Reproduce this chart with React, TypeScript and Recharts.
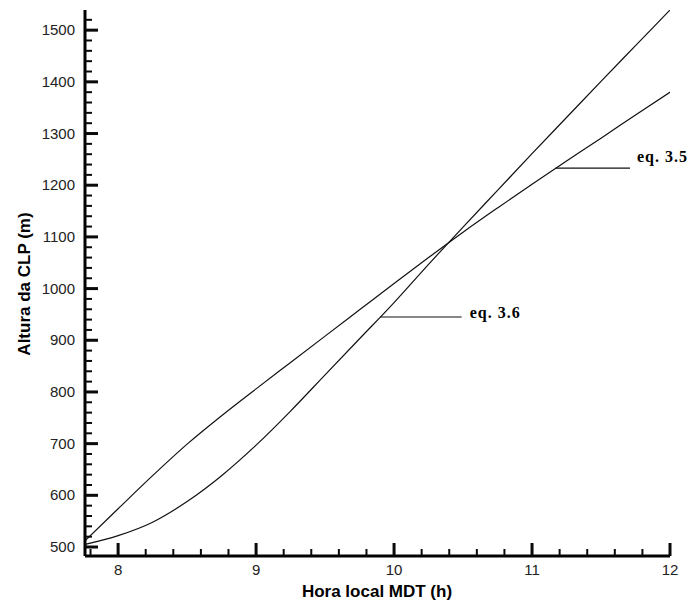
import React from 'react';
import { LineChart, Line, XAxis, YAxis, ReferenceLine } from 'recharts';

// hora local (h)
const horas = [7.76, 8, 8.25, 8.5, 8.75, 9, 9.25, 9.5, 9.75, 10, 10.25, 10.5, 10.75, 11, 11.25, 11.5, 11.75, 12];
// altura da CLP (m), eq. 3.5
const eq35 = [512, 574, 638, 699, 754, 806, 857, 908, 959, 1010, 1060, 1109, 1156, 1202, 1247, 1291, 1336, 1380];
// altura da CLP (m), eq. 3.6
const eq36 = [505, 522, 548, 588, 638, 697, 763, 833, 903, 973, 1047, 1119, 1190, 1261, 1331, 1401, 1470, 1539];

const xMajor = [8, 9, 10, 11, 12];
const xTicks = [7.8, 8, 8.2, 8.4, 8.6, 8.8, 9, 9.2, 9.4, 9.6, 9.8, 10, 10.2, 10.4, 10.6, 10.8, 11, 11.2, 11.4, 11.6, 11.8, 12];
const yMajor = [500, 600, 700, 800, 900, 1000, 1100, 1200, 1300, 1400, 1500];
const yTicks = Array.from({ length: 52 }, (_, i) => 500 + i * 20);

const data = horas.map((h, i) => ({ h, eq35: eq35[i], eq36: eq36[i] }));

const SANS = '"Liberation Sans", Arial, sans-serif';
const SERIF = '"Liberation Serif", "Times New Roman", serif';
const TICK_COLOR = '#0a0a0a';

// ticks point inwards, minor every 0.2 h / 20 m
const XTick = (props: any) => {
  const x = Number(props.x);
  const y = Number(props.y);
  const v = props.payload.value;
  const major = xMajor.some(m => Math.abs(m - v) < 1e-6);
  const len = major ? 13 : 7;
  const w = major ? 3 : 2;
  return (
    <g>
      <rect x={x - w / 2} y={y - len} width={w} height={len} style={{ fill: TICK_COLOR, stroke: 'none' }} />
      {major && (
        <text x={x} y={y + 19} textAnchor="middle" fontSize={15} fontFamily={SANS} style={{ fill: '#222', stroke: 'none' }}>
          {Math.round(v)}
        </text>
      )}
    </g>
  );
};

const YTick = (props: any) => {
  const x = Number(props.x);
  const y = Number(props.y);
  const v = props.payload.value;
  const major = yMajor.includes(v);
  const len = major ? 13 : 7;
  const w = major ? 3 : 2;
  return (
    <g>
      <rect x={x} y={y - w / 2} width={len} height={w} style={{ fill: TICK_COLOR, stroke: 'none' }} />
      {major && (
        <text x={x - 10} y={y + 5} textAnchor="end" fontSize={15} fontFamily={SANS} style={{ fill: '#222', stroke: 'none' }}>
          {v}
        </text>
      )}
    </g>
  );
};

const YTitle = () => (
  <text
    x={30}
    y={284}
    transform="rotate(-90, 30, 284)"
    textAnchor="middle"
    fontSize={17}
    fontWeight="bold"
    fontFamily={SANS}
    fill="#000"
  >
    Altura da CLP (m)
  </text>
);

const XTitle = () => (
  <text x={377} y={597} textAnchor="middle" fontSize={17} fontWeight="bold" fontFamily={SANS} fill="#000">
    Hora local MDT (h)
  </text>
);

const EqLabel = (props: any) => {
  const { viewBox, text, dx = 0, dy = 0 } = props;
  if (!viewBox) return null;
  return (
    <text
      x={viewBox.x + viewBox.width + dx}
      y={viewBox.y + dy}
      fontSize={16}
      fontWeight="bold"
      fontFamily={SERIF}
      letterSpacing={1}
      fill="#000"
    >
      {text}
    </text>
  );
};

export default function App() {
  return (
    <div style={{ position: 'absolute', left: 0, top: 0, background: '#fff' }}>
      <LineChart width={691} height={608} data={data} margin={{ top: 10, right: 21, bottom: 0, left: 0 }}>
        <XAxis
          dataKey="h"
          type="number"
          domain={[7.76, 12]}
          ticks={xTicks}
          interval={0}
          allowDataOverflow
          height={52}
          tickSize={0}
          tickMargin={0}
          tick={<XTick />}
          stroke="#000"
          strokeWidth={3}
          label={<XTitle />}
        />
        <YAxis
          type="number"
          domain={[482.6, 1539]}
          ticks={yTicks}
          interval={0}
          allowDataOverflow
          width={85}
          tickSize={0}
          tickMargin={0}
          tick={<YTick />}
          stroke="#000"
          strokeWidth={3}
          label={<YTitle />}
        />
        <Line type="monotone" dataKey="eq35" stroke="#111" strokeWidth={1.2} dot={false} isAnimationActive={false} />
        <Line type="monotone" dataKey="eq36" stroke="#111" strokeWidth={1.2} dot={false} isAnimationActive={false} />
        <ReferenceLine
          segment={[{ x: 11.17, y: 1233 }, { x: 11.71, y: 1233 }]}
          stroke="#111"
          strokeWidth={1.2}
          label={<EqLabel text="eq. 3.5" dx={7} dy={-6} />}
        />
        <ReferenceLine
          segment={[{ x: 9.9, y: 945 }, { x: 10.49, y: 945 }]}
          stroke="#111"
          strokeWidth={1.2}
          label={<EqLabel text="eq. 3.6" dx={8} dy={1} />}
        />
      </LineChart>
    </div>
  );
}
